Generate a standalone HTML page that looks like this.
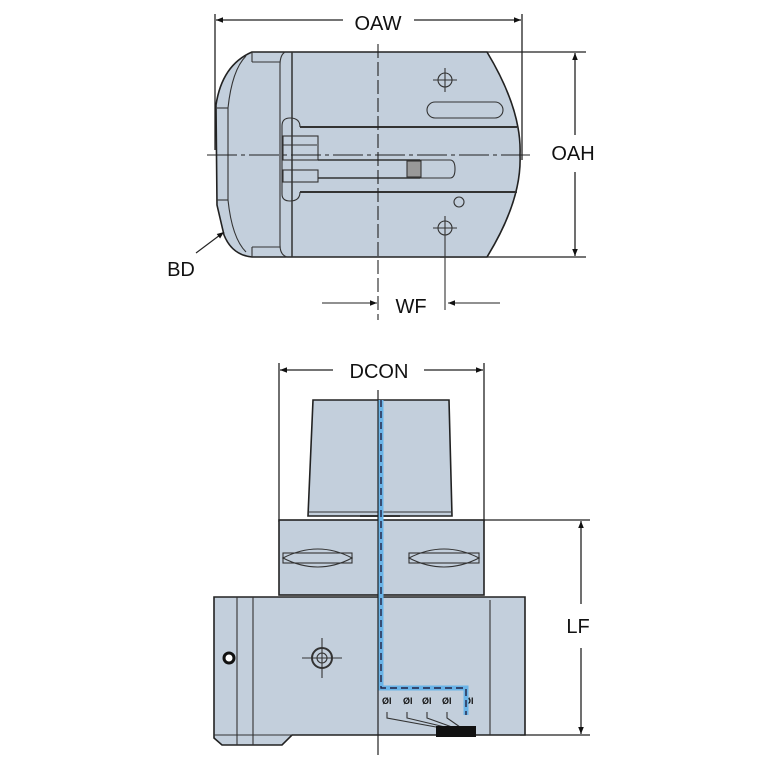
<!DOCTYPE html>
<html><head><meta charset="utf-8"><style>
html,body{margin:0;padding:0;background:#fff;}
svg{display:block;}
text{font-family:"Liberation Sans",sans-serif;fill:#111;}
</style></head><body>
<svg width="767" height="767" viewBox="0 0 767 767" xmlns="http://www.w3.org/2000/svg">
<defs>
<marker id="ar" viewBox="0 0 10 10" refX="10" refY="5" markerWidth="9" markerHeight="7" orient="auto-start-reverse" markerUnits="userSpaceOnUse"><path d="M0,1 L10,5 L0,9 z" fill="#111"/></marker>
</defs>
<g stroke="#222" stroke-width="1.3" fill="none">
<line x1="215" y1="14" x2="215" y2="150"/>
<line x1="522" y1="14" x2="522" y2="160"/>
<line x1="216" y1="20" x2="343" y2="20" marker-start="url(#ar)"/>
<line x1="414" y1="20" x2="521" y2="20" marker-end="url(#ar)"/>
<line x1="440" y1="52" x2="586" y2="52"/>
<line x1="440" y1="257" x2="586" y2="257"/>
<line x1="575" y1="53" x2="575" y2="135" marker-start="url(#ar)"/>
<line x1="575" y1="172" x2="575" y2="256" marker-end="url(#ar)"/>
</g>
<g stroke="#222" stroke-width="1.6" fill="#c3cfdc">
<path d="M252,52 L487,52 Q522,110 520,155 Q522,200 487,257 L252,257 Q232,255 224,235 L217,205 L216,105 Q222,65 252,52 Z"/>
</g>
<g stroke="#333" stroke-width="1.1" fill="none">
<path d="M246,56 Q232,70 228,108 L228,200 Q232,238 246,252"/>
<line x1="252" y1="52" x2="252" y2="62"/><line x1="252" y1="62" x2="280" y2="62"/>
<line x1="252" y1="247" x2="252" y2="257"/><line x1="252" y1="247" x2="280" y2="247"/>
<line x1="217" y1="108" x2="228" y2="108"/><line x1="217" y1="200" x2="228" y2="200"/>
<path d="M285,52 Q280,55 280,65 L280,245 Q280,255 287,257"/>
<line x1="292" y1="52" x2="292" y2="257" stroke-width="1.5"/>
<path d="M300,127 L517,127" stroke-width="2"/>
<path d="M300,192 L517,192" stroke-width="2"/>
<path d="M300,127 Q300,118 290,118 Q282,118 282,126 L282,194 Q282,201 290,201 Q300,201 300,192" />
<rect x="283" y="136" width="35" height="24"/>
<line x1="283" y1="145" x2="317" y2="145"/>
<line x1="318" y1="160" x2="420" y2="160" stroke-width="1.6"/>
<line x1="318" y1="178" x2="420" y2="178" stroke-width="1.6"/>
<rect x="283" y="170" width="35" height="12"/>
<path d="M420,160 L450,160 Q455,160 455,169 Q455,178 450,178 L420,178"/>
<rect x="407" y="161" width="14" height="16" fill="#999"/>
<rect x="427" y="102" width="76" height="16" rx="8"/>
<circle cx="445" cy="80" r="7"/><circle cx="445" cy="228" r="7"/>
<circle cx="459" cy="202" r="5"/>
<line x1="433" y1="80" x2="457" y2="80"/><line x1="445" y1="68" x2="445" y2="92"/>
<line x1="433" y1="228" x2="457" y2="228"/><line x1="445" y1="216" x2="445" y2="310"/>
</g>
<g stroke="#222" stroke-width="1.1" fill="none">
<line x1="378" y1="44" x2="378" y2="320" stroke-dasharray="14,4"/>
<line x1="207" y1="155" x2="530" y2="155" stroke-dasharray="30,4,4,4"/>
<line x1="322" y1="303" x2="377" y2="303" marker-end="url(#ar)"/>
<line x1="500" y1="303" x2="448" y2="303" marker-end="url(#ar)"/>
<line x1="196" y1="253" x2="224" y2="232" marker-end="url(#ar)"/>
</g>
<text x="378" y="30" font-size="20" text-anchor="middle">OAW</text>
<text x="573" y="160" font-size="20" text-anchor="middle">OAH</text>
<text x="411" y="313" font-size="20" text-anchor="middle">WF</text>
<text x="181" y="276" font-size="20" text-anchor="middle">BD</text>

<g stroke="#222" stroke-width="1.3" fill="none">
<line x1="279" y1="363" x2="279" y2="522"/>
<line x1="484" y1="363" x2="484" y2="522"/>
<line x1="280" y1="370" x2="333" y2="370" marker-start="url(#ar)"/>
<line x1="424" y1="370" x2="483" y2="370" marker-end="url(#ar)"/>
<line x1="484" y1="520" x2="590" y2="520"/>
<line x1="520" y1="735" x2="590" y2="735"/>
<line x1="581" y1="521" x2="581" y2="604" marker-start="url(#ar)"/>
<line x1="581" y1="648" x2="581" y2="734" marker-end="url(#ar)"/>
</g>
<g stroke="#222" stroke-width="1.6" fill="#c3cfdc">
<path d="M313,400 L449,400 L452,516 L308,516 Z"/>
<rect x="279" y="520" width="205" height="75"/>
<path d="M214,597 L525,597 L525,735 L292,735 L282,745 L222,745 L214,738 Z"/>
</g>
<g stroke="#333" stroke-width="1.1" fill="none">
<line x1="308" y1="512" x2="452" y2="512"/>
<line x1="360" y1="516" x2="400" y2="516" stroke-width="2"/>
<path d="M283,558 Q318,540 352,558 Q318,576 283,558 Z"/>
<rect x="283" y="553" width="69" height="10"/>
<path d="M409,558 Q444,540 479,558 Q444,576 409,558 Z"/>
<rect x="409" y="553" width="70" height="10"/>
<line x1="237" y1="597" x2="237" y2="745"/><line x1="253" y1="597" x2="253" y2="745"/>
<line x1="214" y1="735" x2="292" y2="735"/>
<line x1="490" y1="600" x2="490" y2="735"/>
<circle cx="322" cy="658" r="10" stroke-width="2"/><circle cx="322" cy="658" r="5"/>
<line x1="302" y1="658" x2="342" y2="658"/><line x1="322" y1="638" x2="322" y2="678"/>
<path d="M387,712 L387,718 L436,727 M407,712 L407,718 L445,727 M427,712 L427,718 L452,727 M447,712 L447,718 L460,727"/>
</g>
<circle cx="229" cy="658" r="5" fill="#fff" stroke="#111" stroke-width="3"/>
<rect x="436" y="726" width="40" height="11" fill="#111"/>
<g font-size="9" font-weight="bold" fill="#111"><text x="382" y="704">ØΙ</text><text x="403" y="704">ØΙ</text><text x="422" y="704">ØΙ</text><text x="442" y="704">ØΙ</text><text x="464" y="704">ØΙ</text></g>
<path d="M381,400 L381,688 L466,688 L466,715" stroke="#6ab4e8" stroke-width="5" fill="none"/>
<path d="M381,400 L381,688 L466,688 L466,715" stroke="#224" stroke-width="1.4" stroke-dasharray="7,4" fill="none"/>
<line x1="378" y1="390" x2="378" y2="755" stroke="#222" stroke-width="1.2"/>
<text x="379" y="378" font-size="20" text-anchor="middle">DCON</text>
<text x="578" y="633" font-size="20" text-anchor="middle">LF</text>
</svg>
</body></html>
